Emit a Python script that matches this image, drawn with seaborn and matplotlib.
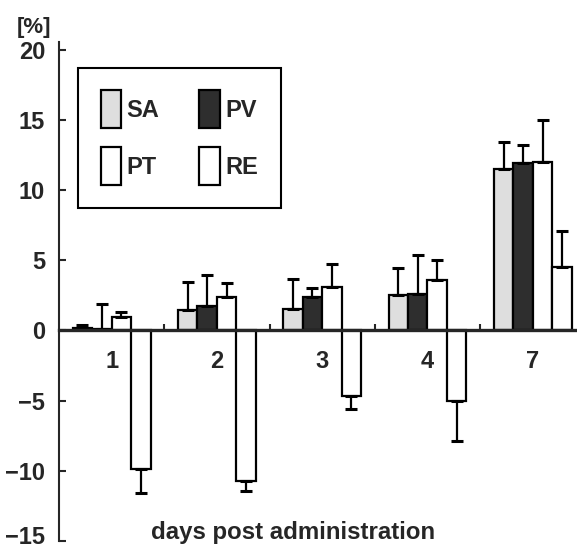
import numpy as np
import pandas as pd
import matplotlib
matplotlib.use('Agg')
import matplotlib.pyplot as plt
import matplotlib.transforms as mtransforms
import seaborn as sns
from matplotlib.patches import Patch

#%% data
days = ['1', '2', '3', '4', '7']
tejidos = ['SA', 'PV', 'PT', 'RE']

SA = [0.15, 1.45, 1.5, 2.5, 11.5]
PV = [0.1, 1.75, 2.35, 2.6, 11.9]
PT = [0.95, 2.35, 3.1, 3.6, 12.0]
RE = [-9.85, -10.7, -4.65, -5.05, 4.5]

SA_err = [0.25, 2.0, 2.15, 1.95, 1.9]
PV_err = [1.8, 2.2, 0.65, 2.8, 1.3]
PT_err = [0.35, 1.0, 1.65, 1.45, 3.0]
RE_err = [1.75, 0.75, 0.95, 2.8, 2.6]

colores = {'SA': '#dedede', 'PV': '#2e2e2e', 'PT': '#ffffff', 'RE': '#ffffff'}

#%%
valores = {'SA': SA, 'PV': PV, 'PT': PT, 'RE': RE}
errores = {'SA': SA_err, 'PV': PV_err, 'PT': PT_err, 'RE': RE_err}

df = pd.DataFrame({
    'day': [d for t in tejidos for d in days],
    'tejido': [t for t in tejidos for d in days],
    'valor': [v for t in tejidos for v in valores[t]],
})

sns.set_style('ticks')
plt.rcParams['font.family'] = ['Liberation Sans', 'DejaVu Sans']
plt.rcParams['font.weight'] = 'bold'

fig = plt.figure(figsize=(5.77, 5.52), dpi=100)
ax = fig.add_axes([59/577, 11/552, 1 - 59/577, (541 - 42)/552])

sns.barplot(data=df, x='day', y='valor', hue='tejido', order=days,
            hue_order=tejidos, palette=colores, edgecolor='black',
            linewidth=1.6, width=0.74, errorbar=None, ax=ax, legend=False)

# barras de error de un solo lado
for t, cont in zip(tejidos, ax.containers):
    xs = [p.get_x() + p.get_width() / 2 for p in cont.patches]
    v = np.array(valores[t])
    e = np.array(errores[t])
    abajo = np.where(v < 0, e, 0)
    arriba = np.where(v >= 0, e, 0)
    ax.errorbar(xs, v, yerr=[abajo, arriba], fmt='none', ecolor='black',
                elinewidth=1.6, capsize=4.5, capthick=2.2, zorder=1)

ax.set_xlim(-0.5, 4.42)
ax.set_ylim(-15, 20.55)
ax.set_yticks([-15, -10, -5, 0, 5, 10, 15, 20])
ax.set_yticklabels(['\u221215', '\u221210', '\u22125', '0', '5', '10', '15', '20'])

ax.spines['top'].set_visible(False)
ax.spines['right'].set_visible(False)
ax.spines['bottom'].set_position(('data', 0))
ax.spines['bottom'].set_linewidth(2.4)
ax.spines['left'].set_linewidth(1.5)

ax.set_xticks(np.arange(len(days)))
ax.set_xticks(np.arange(len(days) - 1) + 0.5, minor=True)
ax.tick_params(axis='x', which='major', length=0, pad=14, labelsize=17)
ax.tick_params(axis='x', which='minor', direction='in', length=4, width=1.5)
ax.tick_params(axis='y', direction='in', length=5, width=1.5, pad=10, labelsize=17)
ax.set_xlabel('')
ax.set_ylabel('')

# subir un poco la etiqueta -15 para que no se corte
lab = ax.get_yticklabels()[0]
lab.set_transform(lab.get_transform() +
                  mtransforms.ScaledTranslation(0, 4/72, fig.dpi_scale_trans))

fig.text(34/577, 1 - 27/552, '[%]', ha='center', va='center',
         fontsize=16, fontweight='bold')
fig.text(293/577, 1 - 532/552, 'days post administration', ha='center',
         va='center', fontsize=17.3, fontweight='bold')

handles = [Patch(facecolor=colores[t], edgecolor='black', linewidth=1.6)
           for t in tejidos]
orden = [0, 2, 1, 3]
leg = ax.legend([handles[i] for i in orden], [tejidos[i] for i in orden],
                ncol=2, loc='upper left', bbox_to_anchor=(0.037, 0.948),
                borderaxespad=0, fontsize=17, handlelength=0.85,
                handleheight=2.1, handletextpad=0.25, labelspacing=0.8,
                columnspacing=1.7, borderpad=0.95, fancybox=False,
                framealpha=1, edgecolor='black')
leg.get_frame().set_linewidth(1.5)

plt.savefig('out.png', format='png', dpi=100)
